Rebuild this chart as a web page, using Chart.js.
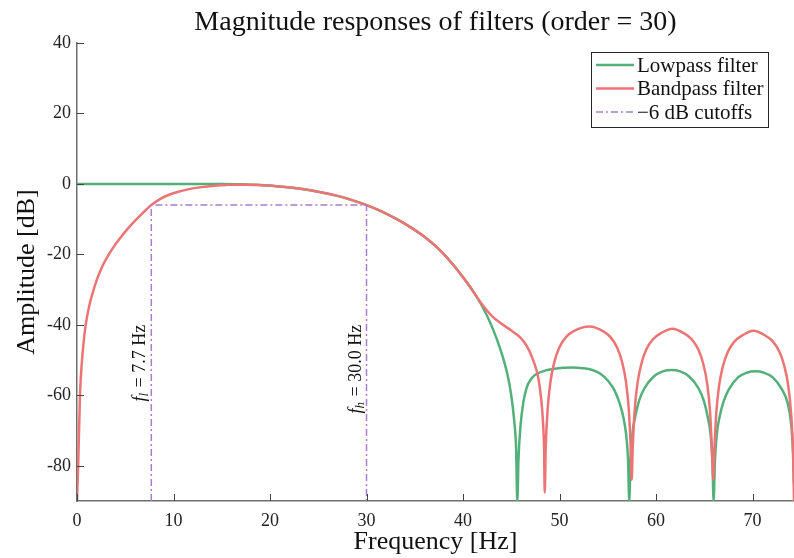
<!DOCTYPE html>
<html>
<head>
<meta charset="utf-8">
<script src="https://cdn.jsdelivr.net/npm/chart.js@4.4.1/dist/chart.umd.min.js"></script>
<style>
  html, body { margin: 0; padding: 0; background: #fff; }
</style>
</head>
<body>
<canvas id="myChart" width="794" height="558"></canvas>
<script>
// values (Hz, dB)
const freqLow = [0, 4, 8, 12, 15, 17, 19, 21, 23, 25, 27, 28.5, 30, 31.5, 33, 34.5, 36, 37.5, 39, 40,
    41, 42, 43, 44, 44.6, 45.0, 45.3, 45.5, 45.63, 45.75, 45.95, 46.25, 46.6, 47.1, 47.6, 48.5, 49.4, 50.4,
    51.4, 52.4, 53.4, 54.2, 55.0, 55.7, 56.2, 56.6, 56.9, 57.1, 57.23, 57.35, 57.55, 57.85, 58.25, 58.8,
    59.8, 60.7, 61.6, 62.5, 63.4, 64.4, 64.95, 65.35, 65.65, 65.85, 65.97, 66.1, 66.3, 66.6, 67.0, 67.55,
    68.5, 69.4, 70.3, 71.2, 72.1, 73.05, 73.6, 74.0, 74.2, 74.3]
const magLow = [0, 0, 0, 0, 0, -0.1, -0.3, -0.7, -1.3, -2.2, -3.4, -4.6, -6.0, -7.7, -9.8, -12.2, -15, -18.5, -23, -26.5,
    -30.3, -34.8, -40.5, -48, -54, -60, -67, -75, -90, -78, -69, -62, -57.8, -55.2, -54.0, -53.0, -52.5, -52.2,
    -52.1, -52.3, -52.8, -53.8, -55.8, -58.6, -62, -66, -71, -78, -90, -79, -71, -66, -61.5, -58,
    -54.6, -53.2, -52.8, -53.2, -54.6, -58, -61.5, -66, -71, -79, -90, -79, -71, -66, -61.8, -58.3,
    -54.9, -53.6, -53.2, -53.6, -54.9, -58.3, -61.8, -68, -76, -85]

const freqBand = [0, 0.13, 0.31, 0.65, 0.9, 1.28, 1.52, 2.04, 2.38, 2.73, 3.3, 3.94, 4.46, 5.2, 6.0, 6.8, 7.7,
    8.6, 9.6, 10.5, 11.5, 12.5, 13.5, 14.5, 15.5, 16.5, 17.5, 19, 21, 23, 25, 27, 28.5, 30, 31.5, 33, 34.5,
    36, 37.5, 39, 40, 41, 42, 43, 44, 45, 45.9, 46.6, 47.2, 47.8, 48.1, 48.3, 48.4, 48.47, 48.57, 48.77,
    49.07, 49.47, 49.97, 50.67, 51.47, 53.1, 54.5, 55.28, 55.98, 56.48, 56.88, 57.18, 57.38, 57.48, 57.58,
    57.78, 58.08, 58.48, 58.98, 59.68, 60.48, 61.7, 62.9, 63.7, 64.4, 64.9, 65.3, 65.6, 65.8, 65.94, 66.04,
    66.24, 66.54, 66.94, 67.44, 68.14, 68.94, 70.1, 71.3, 72.1, 72.8, 73.3, 73.7, 74.0, 74.2, 74.3]
const magBand = [-90, -79, -60, -46, -40, -34.5, -31.9, -27.3, -24.9, -22.8, -20, -17.3, -15.4, -12.9, -10.5, -8.3, -6.0,
    -4.3, -3.0, -2.2, -1.55, -1.05, -0.7, -0.45, -0.3, -0.2, -0.2, -0.35, -0.7, -1.3, -2.2, -3.4, -4.6, -6.0, -7.7, -9.8, -12.2,
    -15, -18.5, -23, -26.5, -30.3, -34.3, -37.5, -39.7, -41.6, -43.5, -46, -49.5, -55, -61, -68, -75, -87.6, -75, -64,
    -56, -50.5, -46.5, -43.5, -41.8, -40.5, -41.8, -43.5, -46.5, -50.5, -56, -64, -75, -84, -75.6,
    -64.6, -56.6, -51.1, -47.1, -44.1, -42.4, -41.1, -42.4, -44.1, -47.1, -51.1, -56.6, -64.6, -75.6, -84, -76.2,
    -65.2, -57.2, -51.7, -47.7, -44.7, -43.0, -41.7, -43.0, -44.7, -47.7, -51.7, -57.2, -65.2, -76, -90]

const cutoffFreqs = [7.7, 30.0]
const cutoffNames = ['l', 'h']
const cutoffLevel = -6

const xTicks = [0, 10, 20, 30, 40, 50, 60, 70]
const yTicks = [40, 20, 0, -20, -40, -60, -80]

const green = '#52b07a'
const red = '#ec7474'
const purple = '#a87dcb'
const serif = '"Liberation Serif", "DejaVu Serif", serif'

const toPoints = (xs, ys) => xs.map((v, i) => ({ x: v, y: ys[i] }))

// the cutoff markers: up from the floor, across at -6 dB, back down
const cutoffPts = [
    { x: cutoffFreqs[0], y: -90 },
    { x: cutoffFreqs[0], y: cutoffLevel },
    { x: cutoffFreqs[1], y: cutoffLevel },
    { x: cutoffFreqs[1], y: -90 }
]

function line(ctx, x1, y1, x2, y2) {
    ctx.beginPath()
    ctx.moveTo(x1, y1)
    ctx.lineTo(x2, y2)
    ctx.stroke()
}

const decor = {
    id: 'decor',
    afterDatasetsDraw(chart) {
        const ctx = chart.ctx
        const a = chart.chartArea
        const xs = chart.scales.x
        const ys = chart.scales.y
        ctx.save()

        // ticks pointing inward
        ctx.strokeStyle = '#444'
        ctx.lineWidth = 1
        xs.ticks.forEach(t => {
            const px = Math.round(xs.getPixelForValue(t.value)) + 0.5
            line(ctx, px, a.bottom, px, a.bottom - 7)
        })
        ys.ticks.forEach(t => {
            const py = Math.round(ys.getPixelForValue(t.value)) + 0.5
            line(ctx, a.left, py, a.left + 7, py)
        })

        // rotated cutoff labels, text end lined up at -40 dB
        ctx.fillStyle = '#111'
        ctx.textBaseline = 'alphabetic'
        cutoffFreqs.forEach((f, i) => {
            const px = xs.getPixelForValue(f)
            const py = ys.getPixelForValue(-40)
            const rest = ' = ' + f.toFixed(1) + ' Hz'
            ctx.font = 'italic 18px ' + serif
            const wf = ctx.measureText('f').width
            ctx.font = 'italic 13px ' + serif
            const ws = ctx.measureText(cutoffNames[i]).width
            ctx.font = '18px ' + serif
            const wr = ctx.measureText(rest).width
            const total = wf + ws + 1 + wr
            ctx.save()
            ctx.translate(px - 6, py)
            ctx.rotate(-Math.PI / 2)
            ctx.textAlign = 'left'
            const x0 = -total
            ctx.font = 'italic 18px ' + serif
            ctx.fillText('f', x0, 0)
            ctx.font = 'italic 13px ' + serif
            ctx.fillText(cutoffNames[i], x0 + wf, 3)
            ctx.font = '18px ' + serif
            ctx.fillText(rest, x0 + wf + ws + 1, 0)
            ctx.restore()
        })

        // legend box
        const lx = 591, ly = 52, lw = 177, lh = 75
        ctx.fillStyle = '#fff'
        ctx.fillRect(lx, ly, lw, lh)
        ctx.strokeStyle = '#262626'
        ctx.lineWidth = 1
        ctx.strokeRect(lx + 0.5, ly + 0.5, lw, lh)
        chart.data.datasets.forEach((ds, i) => {
            const ry = 65 + i * 23.5
            ctx.strokeStyle = ds.borderColor
            ctx.lineWidth = ds.borderWidth
            ctx.setLineDash(ds.borderDash || [])
            line(ctx, 596, ry, 634, ry)
            ctx.setLineDash([])
            ctx.fillStyle = '#111'
            ctx.font = '21px ' + serif
            ctx.textAlign = 'left'
            ctx.textBaseline = 'middle'
            ctx.fillText(ds.label, 637, ry + 1)
        })

        // title centred on the plot area
        ctx.fillStyle = '#111'
        ctx.font = '28px ' + serif
        ctx.textAlign = 'center'
        ctx.textBaseline = 'alphabetic'
        ctx.fillText('Magnitude responses of filters (order = 30)', (a.left + a.right) / 2, 30)

        ctx.restore()
    }
}

const ctx = document.getElementById('myChart').getContext('2d')

const myChart = new Chart(ctx, {
    type: 'scatter',
    data: {
        datasets: [
            {
                label: 'Lowpass filter',
                data: toPoints(freqLow, magLow),
                showLine: true,
                borderColor: green,
                borderWidth: 2.5,
                pointRadius: 0,
                cubicInterpolationMode: 'monotone',
                order: 2
            },
            {
                label: 'Bandpass filter',
                data: toPoints(freqBand, magBand),
                showLine: true,
                borderColor: red,
                borderWidth: 2.5,
                pointRadius: 0,
                cubicInterpolationMode: 'monotone',
                order: 1
            },
            {
                label: '\u22126 dB cutoffs',
                data: cutoffPts,
                showLine: true,
                borderColor: purple,
                borderWidth: 1.5,
                borderDash: [7, 3, 2, 3],
                pointRadius: 0,
                tension: 0,
                order: 0
            }
        ]
    },
    options: {
        responsive: false,
        animation: false,
        devicePixelRatio: 1,
        layout: { padding: { top: 43, right: 0, left: 0, bottom: 0 } },
        plugins: {
            legend: { display: false },
            title: { display: false },
            tooltip: { enabled: false }
        },
        scales: {
            x: {
                type: 'linear',
                position: 'bottom',
                min: 0,
                max: 74.3,
                grid: { display: false, drawTicks: false },
                border: { display: true, color: '#6f6f6f', width: 1.5 },
                ticks: {
                    color: '#222',
                    font: { family: serif, size: 18 },
                    padding: 9
                },
                title: {
                    display: true,
                    text: 'Frequency [Hz]',
                    color: '#111',
                    font: { family: serif, size: 26 },
                    padding: { top: 0, bottom: 0 }
                },
                afterBuildTicks: s => { s.ticks = xTicks.map(v => ({ value: v })) },
                afterFit: s => { s.height = 57 }
            },
            y: {
                type: 'linear',
                min: -90,
                max: 40,
                grid: { display: false, drawTicks: false },
                border: { display: true, color: '#6f6f6f', width: 1.5 },
                ticks: {
                    color: '#222',
                    font: { family: serif, size: 18 },
                    padding: 6
                },
                title: {
                    display: true,
                    text: 'Amplitude [dB]',
                    color: '#111',
                    font: { family: serif, size: 26 },
                    padding: { top: 12, bottom: 0 }
                },
                afterBuildTicks: s => { s.ticks = yTicks.map(v => ({ value: v })) },
                afterFit: s => { s.width = 77 }
            }
        }
    },
    plugins: [decor]
})
</script>
</body>
</html>
